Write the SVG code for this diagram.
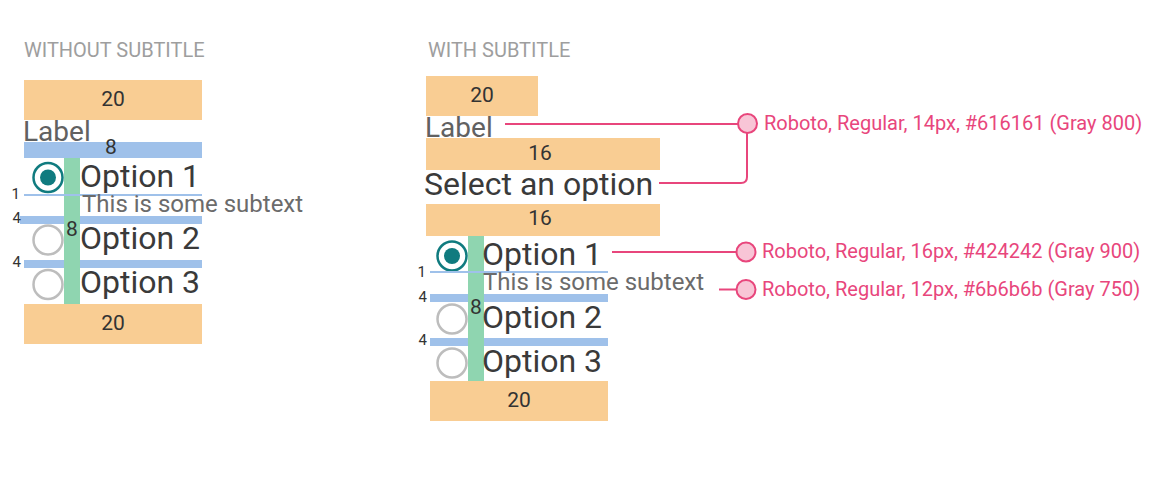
<svg xmlns="http://www.w3.org/2000/svg" width="1160" height="478" viewBox="0 0 1160 478">
<style>
.hdr{font-family:Roboto,"Liberation Sans",sans-serif;font-size:20px;fill:#9e9e9e}
.num{font-family:Roboto,"Liberation Sans",sans-serif;font-size:21px;fill:#333;text-anchor:middle}
.sm{font-family:Roboto,"Liberation Sans",sans-serif;font-size:15px;fill:#333;text-anchor:end}
.lbl{font-family:Roboto,"Liberation Sans",sans-serif;font-size:28px;fill:#616161}
.opt{font-family:Roboto,"Liberation Sans",sans-serif;font-size:32px;fill:#3a3a3a}
.sub{font-family:Roboto,"Liberation Sans",sans-serif;font-size:24px;fill:#6b6b6b}
.ann{font-family:Roboto,"Liberation Sans",sans-serif;font-size:20px;fill:#e8467c}
.or{fill:#f9cd93}
.bl{fill:#9fc1ea}
.gr{fill:#8fd5b0}
.on{fill:none;stroke:#107b7f;stroke-width:2.5}
.dot{fill:#107b7f}
.off{fill:none;stroke:#bdbdbd;stroke-width:2.5}
.pk{fill:none;stroke:#e8467c;stroke-width:2}
.pc{fill:#f8c5d6;stroke:#e8467c;stroke-width:2}
</style>
<rect width="1160" height="478" fill="#fff"/>

<g id="without-subtitle">
<text class="hdr" x="24" y="57">WITHOUT SUBTITLE</text>
<rect class="or" x="24" y="80" width="178" height="40"/>
<text class="num" x="113" y="105.5">20</text>
<text class="lbl" x="23" y="141">Label</text>
<rect class="bl" x="24" y="142" width="178" height="16"/>
<text class="num" x="111" y="154">8</text>
<rect class="gr" x="64" y="158" width="16" height="146"/>
<circle class="on" cx="48" cy="177.5" r="14.5"/>
<circle class="dot" cx="48" cy="177.5" r="8"/>
<text class="opt" x="80" y="187">Option 1</text>
<rect class="bl" x="24" y="194" width="178" height="2"/>
<text class="sm" x="20" y="199">1</text>
<text class="sub" x="82" y="212">This is some subtext</text>
<rect class="bl" x="20" y="216" width="182" height="8"/>
<rect class="gr" x="64" y="216" width="16" height="8"/>
<text class="sm" x="21" y="223">4</text>
<text class="num" x="72" y="236">8</text>
<circle class="off" cx="48" cy="240" r="14.5"/>
<text class="opt" x="80" y="249">Option 2</text>
<rect class="bl" x="24" y="260" width="178" height="8"/>
<rect class="gr" x="64" y="260" width="16" height="8"/>
<text class="sm" x="21" y="267">4</text>
<circle class="off" cx="48" cy="284.5" r="14.5"/>
<text class="opt" x="80" y="293">Option 3</text>
<rect class="or" x="24" y="304" width="178" height="40"/>
<text class="num" x="113" y="329.5">20</text>
</g>

<g id="with-subtitle">
<text class="hdr" x="428" y="57">WITH SUBTITLE</text>
<rect class="or" x="426" y="76" width="112" height="40"/>
<text class="num" x="482" y="101.5">20</text>
<text class="lbl" x="425" y="137">Label</text>
<rect class="or" x="426" y="138" width="234" height="32"/>
<text class="num" x="540" y="159.5">16</text>
<text class="opt" x="424" y="195">Select an option</text>
<rect class="or" x="426" y="204" width="234" height="32"/>
<text class="num" x="540" y="225">16</text>
<rect class="gr" x="468" y="236" width="16" height="145"/>
<circle class="on" cx="452" cy="256" r="14.5"/>
<circle class="dot" cx="452" cy="256" r="8"/>
<text class="opt" x="482" y="264.5">Option 1</text>
<rect class="bl" x="430" y="271" width="178" height="2"/>
<text class="sm" x="426" y="277">1</text>
<text class="sub" x="483" y="290">This is some subtext</text>
<rect class="bl" x="430" y="294" width="178" height="8"/>
<rect class="gr" x="468" y="294" width="16" height="8"/>
<text class="sm" x="427" y="302">4</text>
<text class="num" x="476" y="314">8</text>
<circle class="off" cx="452" cy="319" r="14.5"/>
<text class="opt" x="482" y="328">Option 2</text>
<rect class="bl" x="430" y="338" width="178" height="8"/>
<rect class="gr" x="468" y="338" width="16" height="8"/>
<text class="sm" x="427" y="345">4</text>
<circle class="off" cx="452" cy="363" r="14.5"/>
<text class="opt" x="482" y="372">Option 3</text>
<rect class="or" x="430" y="381" width="178" height="40"/>
<text class="num" x="519" y="406.5">20</text>
</g>

<g id="connectors">
<path class="pk" d="M505 124H738"/>
<path class="pk" d="M659 183H741Q747 183 747 177V133"/>
<path class="pk" d="M612 252H736"/>
<path class="pk" d="M719 289.5H736"/>
</g>

<g id="annotation-label">
<circle class="pc" cx="747.5" cy="123.5" r="9.5"/>
<text class="ann" x="764" y="130">Roboto, Regular, 14px, #616161 (Gray 800)</text>
</g>
<g id="annotation-option">
<circle class="pc" cx="746" cy="252" r="9.5"/>
<text class="ann" x="762" y="258">Roboto, Regular, 16px, #424242 (Gray 900)</text>
</g>
<g id="annotation-subtext">
<circle class="pc" cx="746" cy="289.5" r="9.5"/>
<text class="ann" x="762" y="296">Roboto, Regular, 12px, #6b6b6b (Gray 750)</text>
</g>
</svg>
